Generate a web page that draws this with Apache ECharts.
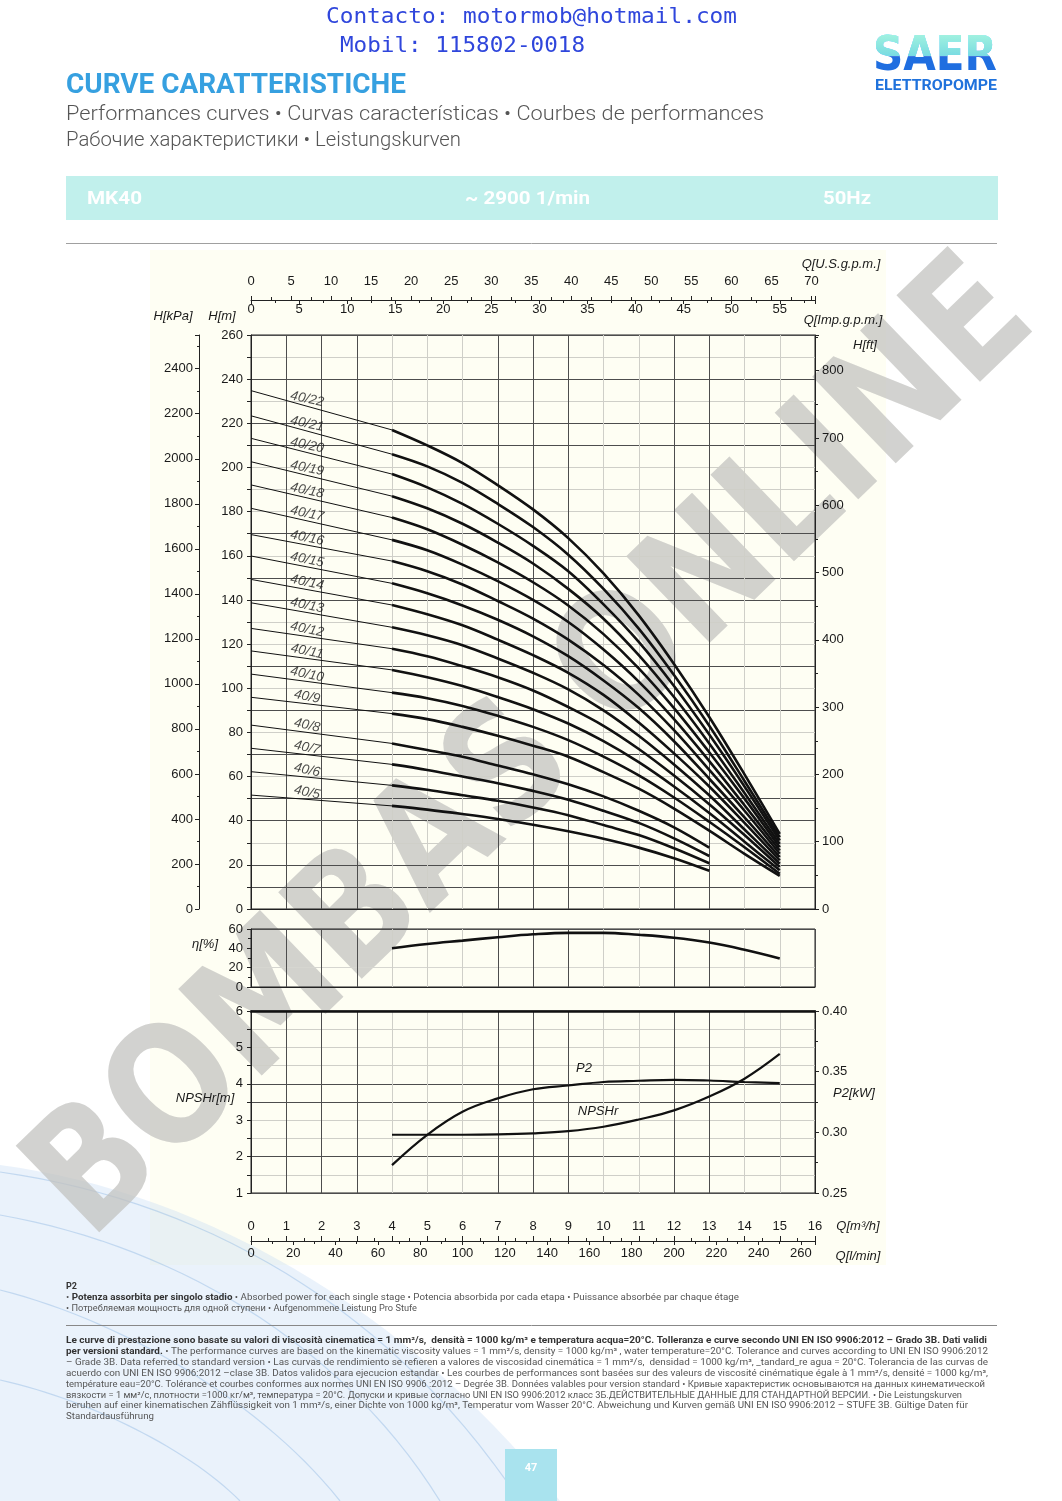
<!DOCTYPE html>
<html><head><meta charset="utf-8">
<script src="https://cdn.jsdelivr.net/npm/echarts@6/dist/echarts.min.js"></script>
<style>html,body{margin:0;padding:0;background:#fff;}#c{width:1062px;height:1501px;}</style>
</head><body><div id="c"></div>
<script>
// ---------------- DATA ----------------
// flow points (m3/h): shut-off (0) then the thick operating range
const qHigh = [0, 4, 5, 6, 7, 8, 9, 10, 11, 12, 13, 14, 15];
const qLow  = [0, 4, 5, 6, 7, 8, 9, 10, 11, 12, 13];
// head H [m] for each model
const h40_22 = [234.8, 217, 210, 202, 192, 181, 168, 152, 133, 111, 87, 61, 34];
const h40_21 = [223.4, 206, 200.5, 193, 183.5, 173, 160.5, 145, 127, 106, 83, 58, 32.5];
const h40_20 = [213.2, 197, 191, 183.5, 174.5, 164.5, 153, 138, 121, 101, 79, 55.5, 31];
const h40_19 = [202.6, 187, 181.5, 174.5, 166, 156.5, 145, 131.5, 115, 96, 75, 52.5, 29.5];
const h40_18 = [192.1, 177.3, 172, 165, 157, 148, 137.5, 124.5, 109, 91, 71, 50, 28];
const h40_17 = [181.5, 167.2, 162.5, 156, 148.5, 140, 130, 117.5, 103, 86, 67, 47, 26.5];
const h40_16 = [169.6, 157.6, 153, 147, 139.5, 131.5, 122, 110.5, 97, 81, 63, 44.5, 25];
const h40_15 = [159.9, 147.5, 143, 137.5, 131, 123.5, 114.5, 103.5, 91, 76, 59, 41.5, 23.5];
const h40_14 = [149.3, 137.7, 133.5, 128.5, 122, 115, 107, 97, 84.5, 70.5, 55.5, 39, 22];
const h40_13 = [138.7, 127.6, 124, 119.5, 113.5, 107, 99.5, 90, 78.5, 65.5, 51.5, 36, 20.5];
const h40_12 = [127.1, 117.9, 114.5, 110, 105, 99, 91.5, 83, 72.5, 60.5, 47.5, 33.5, 19];
const h40_11 = [116.9, 108.3, 105, 101, 96, 90.5, 84, 76, 66.5, 55.5, 43.5, 30.5, 17.5];
const h40_10 = [106.4, 98, 95.5, 92, 87.5, 82.5, 76.5, 69, 60.5, 50.5, 39.5, 28, 16];
const h40_9  = [95.9, 88.5, 86, 82.5, 78.5, 74, 69, 62, 54.5, 45.5, 35.5, 25, 15];
const h40_8  = [83.3, 75, 72, 69, 65, 61, 56.5, 51, 44.5, 37, 27.8];
const h40_7  = [72.8, 65.5, 63, 60, 57, 53.5, 49.5, 44.5, 39, 32, 24];
const h40_6  = [62.2, 56, 54, 51.5, 49, 46, 42.5, 38, 33.5, 27.5, 20.7];
const h40_5  = [51.6, 46.7, 45, 43, 40.8, 38.2, 35.2, 31.8, 27.8, 23, 17.3];
// performance curves
const qPerf = [4, 5, 6, 7, 8, 9, 10, 11, 12, 13, 14, 15];
const efficiency = [40, 44.5, 48, 51.5, 54.5, 56, 56, 54, 51, 46, 38.5, 29.5];
const npshr = [2.6, 2.6, 2.6, 2.61, 2.64, 2.7, 2.82, 3.02, 3.27, 3.65, 4.14, 4.82];
const p2kw = [0.273, 0.298, 0.317, 0.328, 0.3355, 0.3386, 0.3415, 0.3425, 0.3433, 0.3427, 0.3415, 0.3406];

// unit conversions for secondary axes
const USGPM = 4.402868, IGPM = 3.666154, LMIN = 16.66667, KPA = 9.80665, FT = 3.28084;

// ---------------- STYLE ----------------
const VD = '#4d4d4d', VL = '#cfcfc8';
const vPattern = [VD,VD,VD,VD,VL,VL,VL,VD,VD,VD,VL,VL,VD,VD,VL,VL,VD];
const hPattern = [VD,VD,VD,VL,VD,VD,VL,VD,VL,VD,VL,VD,VL,VL,VD,VD,VL,VD,VL,VL,VL,VD,VD,VL,VD,VL,VD];
const nPattern = [VD,VL,VD,VL,VL,VD,VD,VL,VL,VL,VD];
const ePattern = [VD,'#d6d6d0','rgba(0,0,0,0)',VD];
const AX = '#222';
const lbl = (o) => Object.assign({fontFamily:'Liberation Sans', fontSize:13, color:'#1a1a1a'}, o);
const fmt = (m) => (v) => { const k = v / m; return Math.abs(k - Math.round(k)) < 1e-6 ? String(+v.toFixed(4)) : ''; };

const mctx = document.createElement('canvas').getContext('2d');
function measure(t, font) { mctx.font = font; return mctx.measureText(t).width; }
function segs(list, x, y, width, size, family, z, weightNormal) {
  let total = 0; const parts = [];
  list.forEach(s => {
    const fw = s[1] ? 'bold' : (weightNormal || 'normal');
    const fs = s[3] ? 'italic' : 'normal';
    const w = measure(s[0], fs + ' ' + fw + ' ' + size + 'px ' + family);
    parts.push({t:s[0], fw, fs, w, c:s[2]}); total += w;
  });
  const sc = width ? width / total : 1;
  let cx = 0;
  const children = parts.map(p => {
    const el = {type:'text', x:cx, y:0, style:{text:p.t, fontSize:size, fontFamily:family, fontWeight:p.fw, fontStyle:p.fs,
      fill:p.c, align:'left', verticalAlign:'middle', textAlign:'left', textVerticalAlign:'middle'}};
    cx += p.w; return el;
  });
  return {type:'group', x, y, scaleX: sc, z: z || 1, children};
}
function txt(t, x, y, o) {
  return {type:'text', x, y, z: o.z || 1, style:{text:t, fontSize:o.size || 13, fontFamily:o.family || 'Liberation Sans',
    fontWeight:o.weight || 'normal', fontStyle:o.style || 'normal', fill:o.color || '#1a1a1a',
    align:o.align || 'center', verticalAlign:'middle', textAlign:o.align || 'center', textVerticalAlign:'middle'}};
}
function bez(p0, c1, c2, p1, n) {
  const pts = [];
  for (let i = 0; i <= n; i++) {
    const t = i / n, u = 1 - t;
    pts.push([u*u*u*p0[0] + 3*u*u*t*c1[0] + 3*u*t*t*c2[0] + t*t*t*p1[0],
              u*u*u*p0[1] + 3*u*u*t*c1[1] + 3*u*t*t*c2[1] + t*t*t*p1[1]]);
  }
  return pts;
}

// ---------------- SERIES ----------------
const curves = [
  ['40/22', qHigh, h40_22], ['40/21', qHigh, h40_21], ['40/20', qHigh, h40_20], ['40/19', qHigh, h40_19],
  ['40/18', qHigh, h40_18], ['40/17', qHigh, h40_17], ['40/16', qHigh, h40_16], ['40/15', qHigh, h40_15],
  ['40/14', qHigh, h40_14], ['40/13', qHigh, h40_13], ['40/12', qHigh, h40_12], ['40/11', qHigh, h40_11],
  ['40/10', qHigh, h40_10], ['40/9', qHigh, h40_9], ['40/8', qLow, h40_8], ['40/7', qLow, h40_7],
  ['40/6', qLow, h40_6], ['40/5', qLow, h40_5]
];
const series = [];
const labelData = [];
curves.forEach(c => {
  const pts = c[1].map((q, i) => [q, c[2][i]]);
  series.push({type:'line', xAxisIndex:0, yAxisIndex:0, data:pts.slice(0, 2), symbol:'none', silent:true,
    lineStyle:{width:1, color:'#111'}});
  series.push({type:'line', xAxisIndex:0, yAxisIndex:0, data:pts.slice(1), symbol:'none', silent:true, smooth:0.35,
    lineStyle:{width:2.6, color:'#111'}});
  const qL = 1.55;
  labelData.push({name:c[0], value:[qL, c[2][0] + (c[2][1] - c[2][0]) * qL / (c[1][1] - c[1][0])]});
});
series.push({type:'scatter', xAxisIndex:0, yAxisIndex:0, data:labelData, symbolSize:0, silent:true,
  label:{show:true, position:'top', distance:0, rotate:-12, formatter:p => p.name,
    fontFamily:'Liberation Sans', fontStyle:'italic', fontSize:13.5, color:'#1a1a1a'}});
series.push({type:'line', xAxisIndex:3, yAxisIndex:3, data:qPerf.map((q, i) => [q, efficiency[i]]), symbol:'none',
  smooth:0.4, silent:true, lineStyle:{width:2.6, color:'#111'}});
series.push({type:'line', xAxisIndex:4, yAxisIndex:4, data:qPerf.map((q, i) => [q, npshr[i]]), symbol:'none',
  smooth:0.4, silent:true, lineStyle:{width:2.2, color:'#111'}});
series.push({type:'line', xAxisIndex:4, yAxisIndex:5, data:qPerf.map((q, i) => [q, p2kw[i]]), symbol:'none',
  smooth:0.4, silent:true, lineStyle:{width:2.2, color:'#111'}});

// ---------------- AXES ----------------
const hidden = {axisTick:{show:false}, axisLabel:{show:false}};
const xAxis = [
  Object.assign({gridIndex:0, type:'value', min:0, max:16, interval:1, position:'bottom',
    axisLine:{show:true, onZero:false, lineStyle:{color:AX}}, splitLine:{show:true, lineStyle:{color:vPattern}}}, hidden),
  {gridIndex:0, type:'value', min:0, max:16 * USGPM, interval:5, position:'top', offset:35,
    axisLine:{show:true, onZero:false, lineStyle:{color:AX}}, axisTick:{show:true, length:4, lineStyle:{color:AX}},
    minorTick:{show:true, splitNumber:2, length:3, lineStyle:{color:AX}},
    axisLabel:lbl({margin:12, formatter:fmt(5)}), splitLine:{show:false}},
  {gridIndex:0, type:'value', min:0, max:16 * IGPM, interval:5, position:'top', offset:35,
    axisLine:{show:false, onZero:false}, axisTick:{show:true, inside:true, length:4, lineStyle:{color:AX}},
    minorTick:{show:true, splitNumber:2, length:3, lineStyle:{color:AX}},
    axisLabel:lbl({inside:true, margin:3, formatter:fmt(5)}), splitLine:{show:false}},
  Object.assign({gridIndex:1, type:'value', min:0, max:16, interval:1, position:'bottom',
    axisLine:{show:true, onZero:false, lineStyle:{color:AX}}, splitLine:{show:true, lineStyle:{color:vPattern}}}, hidden),
  {gridIndex:2, type:'value', min:0, max:16, interval:1, position:'bottom', offset:48,
    axisLine:{show:true, onZero:false, lineStyle:{color:AX}}, axisTick:{show:true, inside:true, length:5, lineStyle:{color:AX}},
    minorTick:{show:true, splitNumber:2, length:3, lineStyle:{color:AX}},
    axisLabel:lbl({inside:true, margin:8, formatter:fmt(1)}), splitLine:{show:true, lineStyle:{color:vPattern}}},
  {gridIndex:2, type:'value', min:0, max:16 * LMIN, interval:20, position:'bottom', offset:48,
    axisLine:{show:false, onZero:false}, axisTick:{show:true, length:4, lineStyle:{color:AX}},
    minorTick:{show:true, splitNumber:2, length:3, lineStyle:{color:AX}},
    axisLabel:lbl({margin:6, formatter:fmt(20)}), splitLine:{show:false}},
  Object.assign({gridIndex:2, type:'value', min:0, max:16, position:'top',
    axisLine:{show:true, onZero:false, lineStyle:{color:'#111', width:2.5}}, splitLine:{show:false}}, hidden)
];
const yAxis = [
  {gridIndex:0, type:'value', min:0, max:260, interval:10, position:'left',
    axisLine:{show:true, onZero:false, lineStyle:{color:AX}}, axisTick:{show:true, length:4, lineStyle:{color:AX}},
    axisLabel:lbl({margin:8, formatter:fmt(20)}), splitLine:{show:true, lineStyle:{color:hPattern}}},
  {gridIndex:0, type:'value', min:0, max:260 * KPA, interval:200, position:'left', offset:52,
    axisLine:{show:true, onZero:false, lineStyle:{color:AX}}, axisTick:{show:true, length:4, lineStyle:{color:AX}},
    minorTick:{show:true, splitNumber:2, length:2, lineStyle:{color:AX}},
    axisLabel:lbl({margin:6, formatter:fmt(200)}), splitLine:{show:false}},
  {gridIndex:0, type:'value', min:0, max:260 * FT, interval:100, position:'right',
    axisLine:{show:true, onZero:false, lineStyle:{color:AX}}, axisTick:{show:true, length:4, lineStyle:{color:AX}},
    minorTick:{show:true, splitNumber:2, length:3, lineStyle:{color:AX}},
    axisLabel:lbl({margin:7, formatter:fmt(100)}), splitLine:{show:false}},
  {gridIndex:1, type:'value', min:0, max:60, interval:20, position:'left',
    axisLine:{show:true, onZero:false, lineStyle:{color:AX}}, axisTick:{show:true, length:4, lineStyle:{color:AX}},
    minorTick:{show:true, splitNumber:2, length:3, lineStyle:{color:AX}},
    axisLabel:lbl({margin:8, formatter:fmt(20)}), splitLine:{show:true, lineStyle:{color:ePattern}}},
  {gridIndex:2, type:'value', min:1, max:6, interval:0.5, position:'left',
    axisLine:{show:true, onZero:false, lineStyle:{color:AX}}, axisTick:{show:true, length:4, lineStyle:{color:AX}},
    axisLabel:lbl({margin:8, formatter:fmt(1)}), splitLine:{show:true, lineStyle:{color:nPattern}}},
  {gridIndex:2, type:'value', min:0.25, max:0.40, interval:0.05, position:'right',
    axisLine:{show:true, onZero:false, lineStyle:{color:AX}}, axisTick:{show:true, length:4, lineStyle:{color:AX}},
    minorTick:{show:true, splitNumber:2, length:3, lineStyle:{color:AX}},
    axisLabel:lbl({margin:7, formatter:v => v.toFixed(2)}), splitLine:{show:false}}
];
const gridBase = {show:true, borderColor:'#222', borderWidth:1, backgroundColor:'transparent', containLabel:false};
const grid = [
  Object.assign({left:251, top:335, width:564, height:574}, gridBase),
  Object.assign({left:251, top:929, width:564, height:58}, gridBase),
  Object.assign({left:251, top:1011, width:564, height:182}, gridBase)
];

// ---------------- DECOR / TEXT ----------------
const HF = 'Roboto';
const graphic = [];
graphic.push({type:'rect', shape:{x:150, y:250, width:736, height:1015}, style:{fill:'#fefef3'}, z:-10});
// swoosh
graphic.push({type:'polygon', z:-9, shape:{points: bez([0,1165],[190,1190],[400,1300],[560,1501],30).concat([[0,1501]])},
  style:{fill:'rgba(190,215,242,0.32)'}});
[[[0,1172],[200,1200],[390,1305],[520,1501]], [[0,1215],[170,1245],[340,1340],[440,1501]],
 [[0,1290],[120,1320],[260,1400],[340,1501]], [[0,1380],[90,1400],[190,1450],[240,1501]]].forEach(b => {
  graphic.push({type:'polyline', z:-9, shape:{points: bez(b[0], b[1], b[2], b[3], 30)},
    style:{fill:null, stroke:'rgba(120,170,220,0.35)', lineWidth:1.2}});
});
// watermark
(function(){
  const f = 'normal bold 165px DejaVu Sans';
  const w = measure('BOMBAS ONLINE', f);
  graphic.push({type:'text', x:535, y:752, rotation:44 * Math.PI / 180, scaleX:1320 / w, z:-5,
    style:{text:'BOMBAS ONLINE', fontSize:165, fontWeight:'bold', fontFamily:'DejaVu Sans', fill:'rgba(192,192,190,0.72)',
      align:'center', verticalAlign:'middle', textAlign:'center', textVerticalAlign:'middle'}});
})();
// header
graphic.push(segs([['Contacto: motormob@hotmail.com', false, '#2f46dc']], 326, 17, 411, 22, 'DejaVu Sans Mono'));
graphic.push(segs([['Mobil: 115802-0018', false, '#2f46dc']], 340, 46, 245, 22, 'DejaVu Sans Mono'));
graphic.push(segs([['CURVE CARATTERISTICHE', true, '#36a0e0']], 66, 86, 340, 27, HF));
graphic.push(segs([['Performances curves • Curvas características • Courbes de performances', false, '#555555']], 66, 115, 698, 21, HF, 1, '300'));
graphic.push(segs([['Рабочие характеристики • Leistungskurven', false, '#555555']], 66, 141, 395, 21, HF, 1, '300'));
// logo: blue text, then a gradient overlay blended with 'lighten' to give the teal upper half
(function(){
  const f = 'normal bold 48px DejaVu Sans';
  const w = measure('SAER', f);
  graphic.push({type:'text', x:873, y:58, scaleX:124 / w, z:1,
    style:{text:'SAER', fontSize:48, fontWeight:'bold', fontFamily:'DejaVu Sans', fill:'#1f6ee0',
      align:'left', verticalAlign:'middle', textAlign:'left', textVerticalAlign:'middle'}});
  graphic.push({type:'rect', z:2, shape:{x:868, y:34, width:134, height:46},
    style:{blend:'lighten', fill:{type:'linear', x:0, y:0, x2:0, y2:1, colorStops:[
      {offset:0, color:'#a2f2d2'}, {offset:0.48, color:'#78dbe4'}, {offset:0.5, color:'#000000'}, {offset:1, color:'#000000'}]}}});
})();
graphic.push(segs([['ELETTROPOMPE', true, '#1f72dc']], 875, 86, 122, 14, HF));
// banner
graphic.push({type:'rect', shape:{x:66, y:176, width:932, height:44}, style:{fill:'#c1f0ec'}, z:0});
graphic.push(segs([['MK40', true, '#ffffff']], 87, 199, 55, 19, HF));
graphic.push(segs([['~ 2900 1/min', true, '#ffffff']], 465, 199, 125, 19, HF));
graphic.push(segs([['50Hz', true, '#ffffff']], 823, 199, 48, 19, HF));
graphic.push({type:'line', shape:{x1:66, y1:243.5, x2:997, y2:243.5}, style:{stroke:'#a0a0a0', lineWidth:1}});
// axis names
const it = {style:'italic', size:13};
graphic.push(txt('H[kPa]', 173, 316, it));
graphic.push(txt('H[m]', 222, 316, it));
graphic.push(txt('Q[U.S.g.p.m.]', 841, 264, it));
graphic.push(txt('Q[Imp.g.p.m.]', 843, 320, it));
graphic.push(txt('H[ft]', 865, 345, it));
graphic.push(txt('η[%]', 205, 944, it));
graphic.push(txt('NPSHr[m]', 205, 1098, it));
graphic.push(txt('P2[kW]', 854, 1093, it));
graphic.push(txt('Q[m³/h]', 858, 1226, it));
graphic.push(txt('Q[l/min]', 858, 1256, it));
graphic.push(txt('P2', 584, 1068, it));
graphic.push(txt('NPSHr', 598, 1111, it));
// footer
const FC = '#555', FB = '#333';
graphic.push(segs([['P2', true, FB]], 66, 1287, 0, 9, HF));
graphic.push(segs([['• ', false, FC], ['Potenza assorbita per singolo stadio', true, FB],
  [' • Absorbed power for each single stage • Potencia absorbida por cada etapa • Puissance absorbée par chaque étage', false, FC]], 66, 1298, 673, 9, HF));
graphic.push(segs([['• Потребляемая мощность для одной ступени • Aufgenommene Leistung Pro Stufe', false, FC]], 66, 1309, 351, 9, HF));
graphic.push({type:'line', shape:{x1:66, y1:1325.5, x2:997, y2:1325.5}, style:{stroke:'#888', lineWidth:1}});
const para = [
  [[['Le curve di prestazione sono basate su valori di viscosità cinematica = 1 mm²/s,  densità = 1000 kg/m³ e temperatura acqua=20°C. Tolleranza e curve secondo UNI EN ISO 9906:2012 – Grado 3B. Dati validi', true, FB]], 921],
  [[['per versioni standard.', true, FB], [' • The performance curves are based on the kinematic viscosity values = 1 mm²/s, density = 1000 kg/m³ , water temperature=20°C. Tolerance and curves according to UNI EN ISO 9906:2012', false, FC]], 922],
  [[['– Grade 3B. Data referred to standard version • Las curvas de rendimiento se refieren a valores de viscosidad cinemática = 1 mm²/s,  densidad = 1000 kg/m³, _tandard_re agua = 20°C. Tolerancia de las curvas de', false, FC]], 922],
  [[['acuerdo con UNI EN ISO 9906:2012 –clase 3B. Datos validos para ejecucion estandar • Les courbes de performances sont basées sur des valeurs de viscosité cinématique égale à 1 mm²/s, densité = 1000 kg/m³,', false, FC]], 922],
  [[['température eau=20°C. Tolérance et courbes conformes aux normes UNI EN ISO 9906 :2012 – Degrée 3B. Données valables pour version standard • Кривые характеристик основываются на данных кинематической', false, FC]], 919],
  [[['вязкости = 1 мм²/с, плотности =1000 кг/м³, температура = 20°C. Допуски и кривые согласно UNI EN ISO 9906:2012 класс 3Б.ДЕЙСТВИТЕЛЬНЫЕ ДАННЫЕ ДЛЯ СТАНДАРТНОЙ ВЕРСИИ. • Die Leistungskurven', false, FC]], 896],
  [[['beruhen auf einer kinematischen Zähflüssigkeit von 1 mm²/s, einer Dichte von 1000 kg/m³, Temperatur vom Wasser 20°C. Abweichung und Kurven gemäß UNI EN ISO 9906:2012 – STUFE 3B. Gültige Daten für', false, FC]], 902],
  [[['Standardausführung', false, FC]], 88]
];
const paraY = [1341, 1352, 1363, 1374, 1385, 1395.5, 1406, 1416.5];
para.forEach((p, i) => graphic.push(segs(p[0], 66, paraY[i], p[1], 9, HF)));
// page number
graphic.push({type:'rect', shape:{x:505, y:1449, width:52, height:52}, style:{fill:'#a9e3ee'}});
graphic.push(txt('47', 531, 1468, {size:11, weight:'bold', color:'#ffffff', family:HF}));

// ---------------- CHART ----------------
const chart = echarts.init(document.getElementById('c'), null, {renderer:'canvas', width:1062, height:1501});
chart.setOption({
  animation:false,
  backgroundColor:'#ffffff',
  grid, xAxis, yAxis, series, graphic
});
</script>
</body></html>
